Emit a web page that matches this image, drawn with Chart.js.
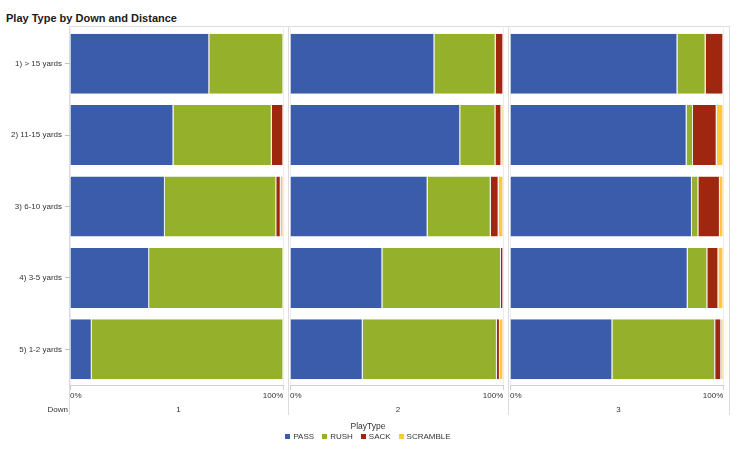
<!DOCTYPE html>
<html>
<head>
<meta charset="utf-8">
<script src="https://cdn.jsdelivr.net/npm/chart.js@4.4.1/dist/chart.umd.min.js"></script>
<style>
  body { margin: 0; width: 740px; height: 449px; position: relative; background: #fff; overflow: hidden;
         font-family: "Liberation Sans", Arial, sans-serif; color: #333; }
  .abs { position: absolute; }
  .panel { position: absolute; top: 0; height: 449px; }
  .vline { position: absolute; width: 1px; background: #dcdcdc; }
  .hline { position: absolute; height: 1px; background: #dcdcdc; }
  #legend { position: absolute; left: 0; width: 736px; top: 421px; text-align: center; font-size: 8px; }
  #legend .ttl { font-size: 8.5px; line-height: 10px; }
  #legend .items { display: flex; justify-content: center; align-items: center; margin-top: 1px; }
  #legend .sw { display: inline-block; width: 5px; height: 5px; margin-right: 3px; }
  #legend .it { display: flex; align-items: center; margin: 0 4px; }
</style>
</head>
<body>
<div class="abs" style="left:6px;top:12px;font-size:11px;font-weight:bold;color:#1a1a1a;line-height:12px;">Play Type by Down and Distance</div>

<div class="hline" style="left:69px;top:26px;width:661px;"></div>
<div class="vline" style="left:69px;top:26px;height:389px;"></div>
<div class="vline" style="left:288px;top:26px;height:389px;"></div>
<div class="vline" style="left:508px;top:26px;height:389px;"></div>
<div class="vline" style="left:729px;top:26px;height:389px;"></div>

<div class="panel" style="left:0;width:289px;"><canvas id="c1"></canvas></div>
<div class="panel" style="left:288px;width:220px;"><canvas id="c2"></canvas></div>
<div class="panel" style="left:508px;width:222px;"><canvas id="c3"></canvas></div>

<div class="abs" style="left:0;width:68px;top:405px;text-align:right;font-size:8px;">Down</div>
<div id="downLabels"></div>
<div id="legend"><div class="ttl">PlayType</div><div class="items"></div></div>

<script>
const categories = ['1) > 15 yards', '2) 11-15 yards', '3) 6-10 yards', '4) 3-5 yards', '5) 1-2 yards'];
const downs = ['1', '2', '3'];
const playTypes = ['PASS', 'RUSH', 'SACK', 'SCRAMBLE'];
const typeColors = ['#3b5bab', '#95b12b', '#a0270f', '#fcca3a'];

// share of plays per distance row, one array per down
const passShare = [
    [0.653, 0.485, 0.445, 0.371, 0.102],
    [0.677, 0.798, 0.645, 0.433, 0.341],
    [0.785, 0.828, 0.853, 0.833, 0.480]
];
const rushShare = [
    [0.347, 0.461, 0.522, 0.629, 0.898],
    [0.287, 0.165, 0.296, 0.556, 0.629],
    [0.132, 0.030, 0.030, 0.092, 0.482]
];
const sackShare = [
    [0, 0.054, 0.021, 0, 0],
    [0.036, 0.028, 0.037, 0.011, 0.014],
    [0.083, 0.111, 0.101, 0.052, 0.028]
];
const scrambleShare = [
    [0, 0, 0.012, 0, 0],
    [0, 0.009, 0.022, 0, 0.016],
    [0, 0.031, 0.016, 0.023, 0.010]
];
const shares = [passShare, rushShare, sackShare, scrambleShare];

const tickFont = { family: '"Liberation Sans", Arial, sans-serif', size: 8 };

function makePanel(id, d, showY, padL, padR) {
    new Chart(document.getElementById(id), {
        type: 'bar',
        data: {
            labels: categories,
            datasets: playTypes.map((t, k) => ({
                label: t,
                data: shares[k][d],
                backgroundColor: typeColors[k],
                borderColor: 'rgba(235,235,235,0.9)',
                borderWidth: { top: 0, bottom: 0, left: 0, right: 1 },
                borderSkipped: false,
                barPercentage: 0.84,
                categoryPercentage: 1
            }))
        },
        options: {
            indexAxis: 'y',
            responsive: true,
            maintainAspectRatio: false,
            animation: false,
            layout: { padding: { top: 28, left: padL, right: padR, bottom: 0 } },
            plugins: { legend: { display: false }, tooltip: { enabled: false } },
            scales: {
                x: {
                    stacked: true,
                    min: 0,
                    max: 1,
                    ticks: {
                        stepSize: 1,
                        align: 'inner',
                        padding: 1,
                        font: tickFont,
                        color: '#333',
                        maxRotation: 0,
                        callback: v => (v * 100) + '%'
                    },
                    grid: { color: '#ececec', tickLength: 5, tickColor: '#d0d0d0' },
                    border: { color: '#d0d0d0' },
                    afterFit: s => { s.height = 64; }
                },
                y: {
                    stacked: true,
                    display: showY,
                    ticks: { font: tickFont, color: '#333', padding: 3 },
                    grid: { drawOnChartArea: false, offset: false, tickLength: 5, tickColor: '#c0c0c0' },
                    border: { display: false },
                    afterFit: s => { if (showY) s.width = 70; }
                }
            }
        }
    });
}

makePanel('c1', 0, true, 0, 5.7);
makePanel('c2', 1, false, 2, 4.7);
makePanel('c3', 2, false, 2, 6.7);

// down labels under each panel
const cells = [[69, 288], [288, 508], [508, 729]];
const dl = document.getElementById('downLabels');
downs.forEach((d, i) => {
    const el = document.createElement('div');
    el.className = 'abs';
    el.style.cssText = `left:${cells[i][0]}px;width:${cells[i][1] - cells[i][0]}px;top:405px;text-align:center;font-size:8px;`;
    el.textContent = d;
    dl.appendChild(el);
});

// legend
const items = document.querySelector('#legend .items');
playTypes.forEach((t, k) => {
    const it = document.createElement('span');
    it.className = 'it';
    it.innerHTML = `<span class="sw" style="background:${typeColors[k]}"></span>${t}`;
    items.appendChild(it);
});
</script>
</body>
</html>
